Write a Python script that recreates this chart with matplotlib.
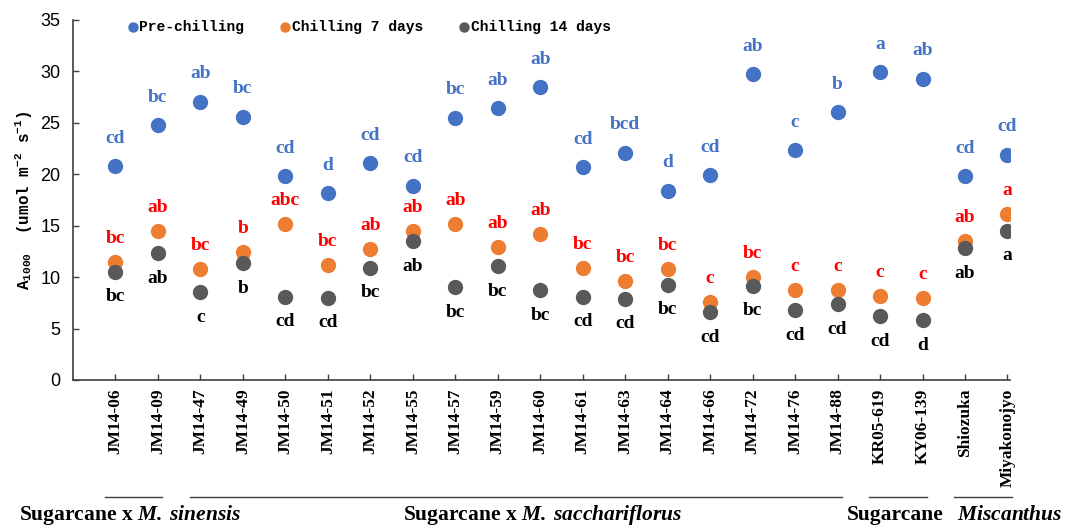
import matplotlib
matplotlib.use("Agg")
import matplotlib.pyplot as plt
import matplotlib.transforms as mtransforms
import numpy as np

# ---- data -------------------------------------------------------------
genotypes = ["JM14-06", "JM14-09", "JM14-47", "JM14-49", "JM14-50", "JM14-51",
             "JM14-52", "JM14-55", "JM14-57", "JM14-59", "JM14-60", "JM14-61",
             "JM14-63", "JM14-64", "JM14-66", "JM14-72", "JM14-76", "JM14-88",
             "KR05-619", "KY06-139", "Shiozuka", "Miyakonojyo"]

pre_chilling = [20.8, 24.8, 27.05, 25.6, 19.8, 18.2, 21.1, 18.9, 25.5, 26.4, 28.5,
                20.7, 22.1, 18.4, 19.9, 29.75, 22.35, 26.05, 29.95, 29.3, 19.8, 21.9]
chilling_7 = [11.5, 14.5, 10.8, 12.4, 15.2, 11.15, 12.7, 14.5, 15.2, 12.9, 14.2,
              10.9, 9.6, 10.8, 7.6, 10.0, 8.7, 8.7, 8.2, 8.0, 13.5, 16.1]
chilling_14 = [10.5, 12.3, 8.55, 11.35, 8.1, 8.0, 10.9, 13.5, 9.0, 11.05, 8.7,
               8.1, 7.9, 9.25, 6.6, 9.15, 6.8, 7.35, 6.2, 5.8, 12.8, 14.5]

letters_pre = ["cd", "bc", "ab", "bc", "cd", "d", "cd", "cd", "bc", "ab", "ab",
               "cd", "bcd", "d", "cd", "ab", "c", "b", "a", "ab", "cd", "cd"]
letters_7 = ["bc", "ab", "bc", "b", "abc", "bc", "ab", "ab", "ab", "ab", "ab",
             "bc", "bc", "bc", "c", "bc", "c", "c", "c", "c", "ab", "a"]
letters_14 = ["bc", "ab", "c", "b", "cd", "cd", "bc", "ab", "bc", "bc", "bc",
              "cd", "cd", "bc", "cd", "bc", "cd", "cd", "cd", "d", "ab", "a"]

# label, first index, last index, label centre (category units)
groups = [
    ("Sugarcane x $\\mathbfit{M.\\,sinensis}$", 0, 1, 0.35),
    ("Sugarcane x $\\mathbfit{M.\\,sacchariflorus}$", 2, 17, 10.07),
    ("Sugarcane", 18, 19, 18.35),
    ("$\\mathbfit{Miscanthus}$", 20, 21, 21.06),
]

plt.rcParams["mathtext.fontset"] = "custom"
plt.rcParams["mathtext.bfit"] = "Liberation Serif:italic:bold"

BLUE = "#4472C4"
ORANGE = "#ED7D31"
GRAY = "#595959"

fig = plt.figure(figsize=(10.65, 5.26), dpi=100)
ax = fig.add_axes([0.0685, 0.2776, 0.8795, 0.6844])

x = np.arange(len(genotypes))
ax.scatter(x, pre_chilling, s=100, color=BLUE, label="Pre-chilling", zorder=3)
ax.scatter(x, chilling_7, s=100, color=ORANGE, label="Chilling 7 days", zorder=3)
ax.scatter(x, chilling_14, s=100, color=GRAY, label="Chilling 14 days", zorder=4)

lab_font = dict(family="Liberation Serif", weight="bold", fontsize=14,
                ha="center", va="center")
for i in range(len(x)):
    ax.annotate(letters_pre[i], (x[i], pre_chilling[i]), xytext=(0, 20),
                textcoords="offset points", color=BLUE, **lab_font)
    ax.annotate(letters_7[i], (x[i], chilling_7[i]), xytext=(0, 17),
                textcoords="offset points", color="#FF0000", **lab_font)
    ax.annotate(letters_14[i], (x[i], chilling_14[i]), xytext=(0, -18),
                textcoords="offset points", color="black", **lab_font)

ax.set_xlim(-1, 21.05)
ax.set_ylim(0, 35)
ax.set_yticks(np.arange(0, 36, 5))
ax.set_xticks(x)
ax.set_xticklabels(genotypes, rotation=90, family="Liberation Serif",
                   weight="bold", fontsize=12.5)
for t in ax.get_yticklabels():
    t.set_family("Liberation Sans")
    t.set_fontsize(13)

for side in ("top", "right"):
    ax.spines[side].set_visible(False)
for side in ("left", "bottom"):
    ax.spines[side].set_color("#404040")
    ax.spines[side].set_linewidth(1.2)
ax.tick_params(axis="y", direction="in", length=4, width=1, color="#404040", pad=9)
ax.tick_params(axis="x", direction="in", length=4, width=1, color="#404040", pad=6)

ax.set_ylabel("A$_{\\mathregular{1000}}$  (umol m$^{\\mathregular{-2}}$ s$^{\\mathregular{-1}}$)",
              family="Liberation Mono", weight="bold", fontsize=11.5)
ax.yaxis.set_label_coords(-0.042, 0.5)

fig.legend(loc="center left", bbox_to_anchor=(0.1207, 0.949), ncol=3,
           frameon=False, markerscale=0.65, handlelength=0.6, handletextpad=0.15,
           columnspacing=2.5, borderpad=0, borderaxespad=0,
           prop=dict(family="Liberation Mono", weight="bold", size=10.5))

# group brackets under the category labels
trans = mtransforms.blended_transform_factory(ax.transData, fig.transFigure)
for label, i0, i1, xc in groups:
    ax.plot([i0 - 0.25, i1 + 0.1], [0.056, 0.056], color="#404040", lw=1,
            transform=trans, clip_on=False)
    ax.text(xc, 0.02, label, transform=trans, ha="center", va="center",
            family="Liberation Serif", weight="bold", fontsize=15.5)

fig.savefig("out.png", dpi=100)
